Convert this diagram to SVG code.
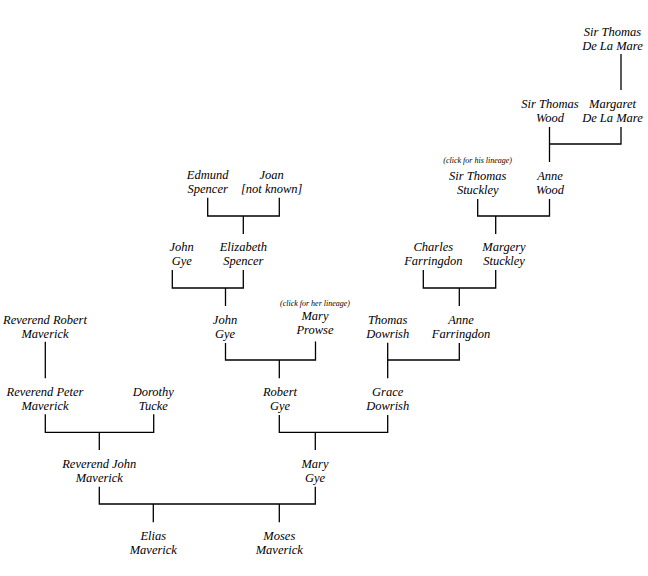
<svg xmlns="http://www.w3.org/2000/svg" width="648" height="576" viewBox="0 0 648 576">
<style>
text{font-family:"Liberation Serif","Times New Roman",serif;font-style:italic;font-size:12.5px;fill:#000;text-anchor:middle}
.note{font-size:8px}
#connectors path{stroke:#000;stroke-width:1.3;fill:none}
</style>
<rect width="648" height="576" fill="#fff"/>
<g id="connectors">
<path d="M621,54V90"/>
<path d="M549.5,127V144H621V127M549.5,144V162"/>
<path d="M477.7,199V216H549.5V199M495.7,216V234"/>
<path d="M423.3,270V288H495.7V270M459.3,288V306"/>
<path d="M459.3,343V360H387.7M387.7,342.7V378.3"/>
<path d="M207.7,197.7V216H279.3V197.7M243.3,216V234"/>
<path d="M172.3,270V288H243.3V270M225.5,288V306"/>
<path d="M225.5,343V360H315.5V341.5M279.3,360V378.3"/>
<path d="M279.3,415V432.3H387.7V415M315.3,432.3V450"/>
<path d="M45.3,341.7V378.3"/>
<path d="M45.3,414.3V432.3H153.7V414.3M99.3,432.3V450"/>
<path d="M99.3,486.7V504H315.3V486.7M153.3,504V522.3M279.3,504V522.3"/>
</g>
<g id="sir-thomas-de-la-mare"><text x="612.5" y="35.5">Sir Thomas</text><text x="612.5" y="49.5">De La Mare</text></g>
<g id="sir-thomas-wood"><text x="550" y="108">Sir Thomas</text><text x="550" y="122">Wood</text></g>
<g id="margaret-de-la-mare"><text x="612.5" y="108">Margaret</text><text x="612.5" y="122">De La Mare</text></g>
<g id="sir-thomas-stuckley"><text class="note" x="477.7" y="162.5">(click for his lineage)</text><text x="477.7" y="179.5">Sir Thomas</text><text x="477.7" y="193.5">Stuckley</text></g>
<g id="anne-wood"><text x="550" y="179.5">Anne</text><text x="550" y="193.5">Wood</text></g>
<g id="edmund-spencer"><text x="207.7" y="179">Edmund</text><text x="207.7" y="193">Spencer</text></g>
<g id="joan"><text x="271.7" y="179">Joan</text><text x="271.7" y="193">[not known]</text></g>
<g id="john-gye-1"><text x="181.7" y="251">John</text><text x="181.7" y="265">Gye</text></g>
<g id="elizabeth-spencer"><text x="243.3" y="251">Elizabeth</text><text x="243.3" y="265">Spencer</text></g>
<g id="charles-farringdon"><text x="433.3" y="251">Charles</text><text x="433.3" y="265">Farringdon</text></g>
<g id="margery-stuckley"><text x="504" y="251">Margery</text><text x="504" y="265">Stuckley</text></g>
<g id="reverend-robert-maverick"><text x="45" y="323.5">Reverend Robert</text><text x="45" y="337.5">Maverick</text></g>
<g id="john-gye-2"><text x="225" y="324">John</text><text x="225" y="338">Gye</text></g>
<g id="mary-prowse"><text class="note" x="315" y="306">(click for her lineage)</text><text x="315" y="319.5">Mary</text><text x="315" y="333.5">Prowse</text></g>
<g id="thomas-dowrish"><text x="387.7" y="323.5">Thomas</text><text x="387.7" y="337.5">Dowrish</text></g>
<g id="anne-farringdon"><text x="461" y="324">Anne</text><text x="461" y="338">Farringdon</text></g>
<g id="reverend-peter-maverick"><text x="45" y="395.5">Reverend Peter</text><text x="45" y="409.5">Maverick</text></g>
<g id="dorothy-tucke"><text x="153.3" y="395.5">Dorothy</text><text x="153.3" y="409.5">Tucke</text></g>
<g id="robert-gye"><text x="280" y="396">Robert</text><text x="280" y="410">Gye</text></g>
<g id="grace-dowrish"><text x="387.7" y="396">Grace</text><text x="387.7" y="410">Dowrish</text></g>
<g id="reverend-john-maverick"><text x="99.3" y="467.5">Reverend John</text><text x="99.3" y="481.5">Maverick</text></g>
<g id="mary-gye"><text x="315" y="467.5">Mary</text><text x="315" y="481.5">Gye</text></g>
<g id="elias-maverick"><text x="153.3" y="539.5">Elias</text><text x="153.3" y="553.5">Maverick</text></g>
<g id="moses-maverick"><text x="279.3" y="539.5">Moses</text><text x="279.3" y="553.5">Maverick</text></g>
</svg>
